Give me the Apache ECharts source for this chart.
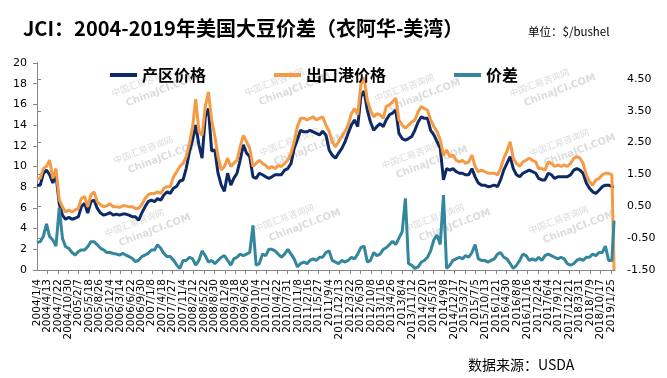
<!DOCTYPE html>
<html>
<head>
<meta charset="utf-8">
<script src="https://cdn.jsdelivr.net/npm/echarts@6/dist/echarts.min.js"></script>
<style>
html, body { margin: 0; padding: 0; background: #fff; }
#chart { width: 667px; height: 378px; }
</style>
</head>
<body>
<div id="chart"></div>
<script>
// monthly readings (4th of each month from 2004/1), last point 2019/2/25
var seriesNames = ['产区价格', '出口港价格', '价差'];

var producerPrice = [
    8.2, 8.2, 9.3, 9.65, 9.2, 8.4, 9.2, 6.4, 5.3, 4.9, 5.1, 4.9,
    5.0, 5.15, 6.1, 6.45, 5.5, 6.6, 6.75, 5.95, 5.5, 5.3, 5.4, 5.55,
    5.3, 5.4, 5.3, 5.4, 5.4, 5.3, 5.15, 5.15, 4.8, 5.5, 6.1, 6.6,
    6.75, 6.6, 6.9, 6.75, 7.25, 7.55, 7.4, 7.9, 8.1, 8.6, 8.7, 9.8,
    11.4, 12.6, 14.0, 12.1, 10.8, 14.8, 15.6, 11.5, 11.6, 9.35, 8.2, 7.6,
    9.35, 8.2, 8.85, 9.35, 10.6, 12.1, 11.3, 10.95, 9.0, 8.85, 9.35, 9.2,
    9.0, 8.85, 9.0, 9.2, 9.2, 9.2, 9.65, 9.8, 10.3, 11.75, 12.6, 13.5,
    13.35, 13.35, 13.5, 13.35, 13.2, 13.05, 13.4, 13.05, 11.6, 11.1, 10.8, 11.3,
    11.75, 12.4, 13.2, 14.0, 14.5, 13.85, 16.75, 17.3, 15.45, 14.3, 13.5, 13.85,
    14.15, 13.85, 14.5, 15.0, 15.15, 15.45, 13.2, 12.7, 12.55, 12.7, 12.9, 13.5,
    14.3, 14.8, 14.65, 14.65, 13.5, 13.05, 12.4, 11.75, 8.7, 9.8, 9.65, 9.8,
    9.5, 9.35, 9.35, 9.2, 9.2, 9.8, 9.0, 8.4, 8.2, 8.2, 8.05, 8.1,
    8.2, 8.05, 8.7, 9.65, 10.3, 10.95, 9.8, 9.2, 9.0, 9.35, 9.5, 9.65,
    9.5, 9.35, 8.85, 8.7, 8.7, 9.35, 9.2, 8.85, 9.0, 9.0, 9.0, 9.0,
    9.2, 9.65, 9.8, 9.65, 9.35, 8.4, 7.9, 7.55, 7.4, 7.7, 8.05, 8.2,
    8.2, 8.05, 8.05
];

var portPrice = [
    8.85, 8.85, 9.8, 10.0, 10.6, 8.85, 9.8, 6.8, 6.1, 5.6, 5.8, 5.6,
    5.8, 5.95, 6.9, 7.1, 6.1, 7.25, 7.55, 6.6, 6.3, 6.1, 6.2, 6.4,
    6.1, 6.1, 6.05, 6.2, 6.2, 6.1, 6.1, 5.95, 5.95, 6.3, 6.9, 7.25,
    7.4, 7.4, 7.55, 7.4, 7.9, 8.05, 8.05, 9.0, 9.5, 10.0, 10.3, 10.95,
    12.2, 13.85, 16.5, 13.4, 13.0, 15.8, 17.2, 14.5, 12.9, 10.95, 9.65, 10.0,
    10.8, 10.0, 10.3, 10.6, 11.9, 13.0, 12.4, 11.75, 10.0, 10.3, 10.6, 10.3,
    10.1, 9.8, 10.0, 9.8, 10.1, 10.0, 10.3, 10.6, 11.3, 12.4, 13.85, 14.65,
    14.65, 14.5, 14.65, 14.8, 14.5, 14.65, 14.8, 14.0, 13.4, 12.4, 11.9, 12.4,
    12.9, 13.4, 14.0, 15.1, 15.6, 15.0, 17.9, 18.6, 16.4, 15.45, 14.8, 15.1,
    15.0, 14.65, 15.8, 15.95, 16.25, 16.6, 14.5, 14.0, 13.7, 14.0, 14.3, 14.5,
    15.3, 15.8, 15.6, 15.45, 14.5, 13.85, 13.4, 12.55, 11.1, 11.6, 10.95, 11.1,
    10.6, 10.45, 10.6, 10.3, 10.45, 11.1, 10.0, 9.5, 9.65, 9.5, 9.35, 9.35,
    9.35, 9.2, 9.8, 10.8, 11.45, 12.4, 10.8, 10.3, 10.0, 10.45, 10.6, 10.8,
    10.6, 10.45, 9.8, 9.8, 9.65, 10.45, 10.3, 10.0, 10.15, 10.0, 10.15, 10.0,
    10.3, 10.8, 10.95, 10.8, 10.3, 9.2, 8.55, 8.2, 8.7, 8.85, 9.2, 9.35,
    9.35, 9.2, 0
];

var priceSpread = [
    -0.64, -0.61, -0.45, -0.05, -0.45, -0.56, -0.75, 0.45, -0.5, -0.77, -0.82, -0.95,
    -1.03, -0.92, -0.87, -0.87, -0.77, -0.61, -0.61, -0.71, -0.82, -0.87, -0.95, -0.95,
    -0.98, -1.0, -1.03, -0.98, -1.03, -1.08, -1.13, -1.24, -1.19, -1.08, -1.03, -0.98,
    -0.87, -0.87, -0.71, -0.82, -0.98, -1.08, -1.08, -1.19, -1.34, -1.45, -1.2, -1.2,
    -1.1, -1.15, -1.35, -1.2, -0.9, -1.05, -1.25, -1.2, -1.3, -1.2, -1.1, -1.05,
    -1.2, -1.35, -1.15, -1.1, -1.0, -1.05, -1.0, -0.95, -0.1, -1.35, -1.3, -1.0,
    -1.05, -0.85, -0.85, -0.9, -1.0, -1.1, -1.0, -0.85, -1.0, -1.15, -1.4, -1.3,
    -1.25, -1.3, -1.2, -1.15, -1.2, -1.1, -1.1, -0.95, -0.9, -1.2, -1.25, -1.3,
    -1.2, -1.25, -1.2, -1.1, -1.15, -1.0, -0.8, -0.75, -1.25, -1.2, -0.95, -1.05,
    -1.0, -0.85, -0.8, -0.7, -0.6, -0.7, -0.5, -0.3, 0.75, -1.3, -1.35, -1.45,
    -1.4, -1.25, -1.2, -1.1, -0.9, -0.55, -0.4, -0.7, 0.85, -1.45, -1.35, -1.2,
    -1.15, -1.1, -1.15, -1.05, -1.1, -0.95, -0.7, -1.15, -1.2, -1.2, -1.25, -1.2,
    -1.15, -1.0, -0.95, -1.1, -1.15, -1.3, -1.45, -1.35, -1.2, -1.0, -1.05, -1.2,
    -1.15, -1.2, -1.1, -1.2, -1.05, -1.0, -1.05, -1.1, -1.15, -1.1, -1.15, -1.3,
    -1.35, -1.3, -1.2, -1.15, -1.2, -1.1, -1.1, -1.0, -1.05, -0.95, -0.95, -0.75,
    -1.2, -1.2, 0.05
];

var leftTicks = { min: 0, max: 20, interval: 2 };
var rightTicks = { min: -1.5, max: 5, interval: 1 };
var dayTicks = { min: 0, max: 5540, interval: 100 };

var DAY_MS = 86400000;
var startMs = Date.UTC(2004, 0, 4);
var lastMs = Date.UTC(2019, 1, 25);

function dayOffset(ms) {
    return Math.round((ms - startMs) / DAY_MS);
}

// x position of every reading, in days since 2004/1/4
var days = producerPrice.map(function(v, i) {
    if (i === producerPrice.length - 1) return dayOffset(lastMs);
    return dayOffset(Date.UTC(2004, i, 4));
});

function pairs(values) {
    return values.map(function(v, i) {
        return [days[i], v];
    });
}

function dateLabel(d) {
    var t = new Date(startMs + d * DAY_MS);
    return t.getUTCFullYear() + '/' + (t.getUTCMonth() + 1) + '/' + t.getUTCDate();
}

// faint site watermark
var wmPos = [[135, 93], [268, 92], [398, 98], [533, 93],
             [137, 160], [283, 152], [405, 165], [553, 153],
             [128, 233], [278, 228], [428, 228], [552, 230]];

function watermark(p) {
    return {
        type: 'group',
        x: p[0],
        y: p[1],
        rotation: 0.36,
        z: 0,
        silent: true,
        children: [{
            type: 'text',
            x: -22, y: -12,
            style: { text: '中国汇易咨询网', fill: '#dcdcdc', fontSize: 9, fontFamily: 'Noto Sans CJK SC' }
        }, {
            type: 'text',
            x: -12, y: 2,
            style: { text: 'ChinaJCI.COM', fill: '#dcdcdc', fontSize: 10, fontWeight: 'bold', fontFamily: 'DejaVu Sans' }
        }]
    };
}

var graphics = wmPos.map(watermark);
graphics.push({
    type: 'text',
    x: 528, y: 32,
    style: { text: '单位：$/bushel', fill: '#000', fontSize: 11.5, fontFamily: 'Noto Sans CJK SC', verticalAlign: 'middle' }
});
graphics.push({
    type: 'text',
    x: 468, y: 365,
    style: { text: '数据来源：USDA', fill: '#000', fontSize: 14, fontFamily: 'Noto Sans CJK SC', verticalAlign: 'middle' }
});

var dateLabelStyle = {
    rotate: 90,
    margin: 9,
    fontSize: 10.5,
    color: '#000',
    fontFamily: 'DejaVu Sans'
};

var chart = echarts.init(document.getElementById('chart'));

var option = {
    animation: false,
    backgroundColor: '#fff',
    title: {
        text: 'JCI：2004-2019年美国大豆价差（衣阿华-美湾）',
        left: 18,
        top: 13,
        textStyle: {
            fontSize: 20,
            fontWeight: 'bold',
            color: '#000',
            fontFamily: 'Noto Sans CJK SC'
        }
    },
    legend: {
        data: seriesNames,
        left: 105,
        top: 62,
        icon: 'rect',
        itemWidth: 27,
        itemHeight: 4,
        itemGap: 68,
        textStyle: {
            fontSize: 16,
            fontWeight: 'bold',
            color: '#000',
            fontFamily: 'Noto Sans CJK SC'
        }
    },
    graphic: graphics,
    grid: {
        left: 37,
        right: 52,
        top: 63,
        bottom: 108
    },
    xAxis: [{
        type: 'value',
        position: 'bottom',
        min: dayTicks.min,
        max: dayTicks.max,
        interval: dayTicks.interval,
        splitLine: { show: false },
        axisLine: { lineStyle: { color: '#868686', width: 1 } },
        axisTick: { length: 4, lineStyle: { color: '#868686' } },
        axisLabel: Object.assign({}, dateLabelStyle, {
            showMinLabel: false,
            showMaxLabel: false,
            formatter: dateLabel
        })
    }, {
        // only carries the first date label, which the main axis drops as overlapping
        type: 'value',
        position: 'bottom',
        min: dayTicks.min,
        max: dayTicks.max,
        interval: dayTicks.interval,
        splitLine: { show: false },
        axisLine: { show: false },
        axisTick: { show: false },
        axisLabel: Object.assign({}, dateLabelStyle, {
            showMinLabel: true,
            showMaxLabel: false,
            formatter: function(v) { return v === dayTicks.min ? dateLabel(v) : ''; }
        })
    }],
    yAxis: [{
        type: 'value',
        min: leftTicks.min,
        max: leftTicks.max,
        interval: leftTicks.interval,
        offset: 2,
        splitLine: { show: false },
        axisLine: { show: true, lineStyle: { color: '#868686' } },
        axisTick: { show: true, length: 4, lineStyle: { color: '#868686' } },
        axisLabel: { fontSize: 11, color: '#000', fontFamily: 'DejaVu Sans', margin: 8 }
    }, {
        type: 'value',
        min: rightTicks.min,
        max: rightTicks.max,
        interval: rightTicks.interval,
        splitLine: { show: false },
        axisLine: { show: true, lineStyle: { color: '#868686' } },
        axisTick: { show: true, length: 4, lineStyle: { color: '#868686' } },
        axisLabel: {
            fontSize: 11,
            color: '#000',
            fontFamily: 'DejaVu Sans',
            margin: 12,
            showMaxLabel: false,
            formatter: function(v) { return v.toFixed(2); }
        }
    }],
    series: [{
        name: seriesNames[0],
        type: 'line',
        showSymbol: false,
        color: '#0E2A66',
        lineStyle: { width: 3, color: '#0E2A66' },
        data: pairs(producerPrice)
    }, {
        name: seriesNames[1],
        type: 'line',
        showSymbol: false,
        color: '#F59A45',
        lineStyle: { width: 3, color: '#F59A45' },
        data: pairs(portPrice)
    }, {
        name: seriesNames[2],
        type: 'line',
        yAxisIndex: 1,
        showSymbol: false,
        color: '#34869C',
        lineStyle: { width: 3, color: '#34869C' },
        data: pairs(priceSpread)
    }]
};

chart.setOption(option);
</script>
</body>
</html>
